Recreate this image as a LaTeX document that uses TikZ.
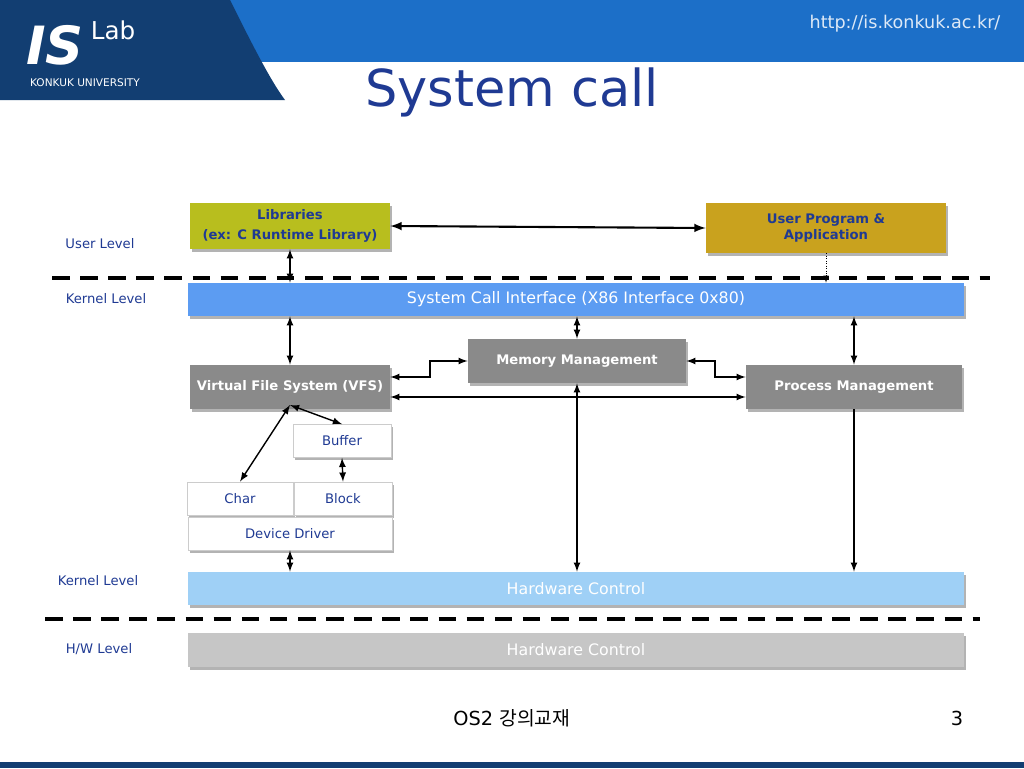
\documentclass[tikz,border=0pt]{standalone}
\usepackage{fontspec}
\setmainfont{DejaVu Sans}
\newfontfamily\cjk{Noto Sans CJK KR}
\usetikzlibrary{shadows}
\definecolor{txtblue}{HTML}{1F3A93}
\definecolor{libcol}{HTML}{B8BE1E}
\definecolor{usrcol}{HTML}{C9A21E}
\definecolor{scicol}{HTML}{5C9CF2}
\definecolor{hwcol}{HTML}{9FD0F6}
\definecolor{mgmt}{HTML}{8A8A8A}
\definecolor{navy}{HTML}{123E72}
\definecolor{band}{HTML}{1C6FC8}
\tikzset{
  box/.style={draw=none, minimum width=#1, inner sep=0pt, drop shadow={shadow xshift=1pt, shadow yshift=-1.5pt, opacity=.6}},
  mg/.style={box=#1, fill=mgmt, text=white, font=\bfseries\fontsize{7.5}{9}\selectfont, minimum height=44*0.02cm},
  wb/.style={box=#1, fill=white, draw=gray!40, text=txtblue, font=\fontsize{7.5}{9}\selectfont, minimum height=33*0.02cm},
  lvl/.style={text=txtblue, font=\fontsize{7.5}{9}\selectfont},
  biarr/.style={<->, >=latex, thick},
}
\begin{document}
\begin{tikzpicture}[x=0.02cm, y=-0.02cm]
\useasboundingbox (0,0) rectangle (1024,768);
% header
\fill[band] (0,0) rectangle (1024,62);
\fill[navy] (0,0) -- (230,0) .. controls (250,40) and (270,80) .. (285,100) -- (0,100) -- cycle;
\node[text=white, font=\bfseries\itshape\fontsize{30}{30}\selectfont] (is) at (55,45) {IS};
\node[text=white, font=\fontsize{14}{14}\selectfont] (lab) at (113,30) {Lab};
\node[text=white, font=\fontsize{6}{7}\selectfont] (ku) at (85,83) {KONKUK UNIVERSITY};
\node[text=white!85!band, font=\fontsize{10}{12}\selectfont] (url) at (905,24) {http://is.konkuk.ac.kr/};
\node[text=txtblue, font=\fontsize{29}{34}\selectfont] (title) at (512,92) {System call};
\fill[navy] (0,762) rectangle (1024,768);

% boxes
\node[box=200*0.02cm, fill=libcol, text=txtblue, font=\bfseries\fontsize{7.5}{9}\selectfont, minimum height=46*0.02cm, align=center] (lib) at (290,226) {Libraries\\[2pt](ex: C Runtime Library)};
\node[box=240*0.02cm, fill=usrcol, text=txtblue, font=\bfseries\fontsize{7.5}{9}\selectfont, minimum height=50*0.02cm, align=center] (usr) at (826,228) {User Program \&\\Application};
\node[box=776*0.02cm, fill=scicol, text=white, font=\fontsize{9}{11}\selectfont, minimum height=33*0.02cm] (sci) at (576,299.5) {System Call Interface (X86 Interface 0x80)};
\node[mg=218*0.02cm] (mem) at (577,361) {Memory Management};
\node[mg=200*0.02cm] (vfs) at (290,387) {Virtual File System (VFS)};
\node[mg=216*0.02cm] (pm) at (854,387) {Process Management};
\node[wb=98*0.02cm] (buf) at (342,441) {Buffer};
\node[wb=106*0.02cm] (chr) at (240,498.5) {Char};
\node[wb=98*0.02cm] (blk) at (343,498.5) {Block};
\node[wb=204*0.02cm] (dd) at (290,533.5) {Device Driver};
\node[box=776*0.02cm, fill=hwcol, text=white, font=\fontsize{9}{11}\selectfont, minimum height=33*0.02cm] (hw1) at (576,588.5) {Hardware Control};
\node[box=776*0.02cm, fill=gray!45, text=white, font=\fontsize{9}{11}\selectfont, minimum height=34*0.02cm] (hw2) at (576,650) {Hardware Control};

% levels
\node[lvl] (ul) at (100,244) {User Level};
\node[lvl] (kl1) at (106,299) {Kernel Level};
\node[lvl] (kl2) at (98,581) {Kernel Level};
\node[lvl] (hwl) at (99,649) {H/W Level};
\coordinate (d1a) at (52,278); \coordinate (d1b) at (990,278);
\coordinate (d2a) at (45,619); \coordinate (d2b) at (980,619);
\draw[line width=2pt, dash pattern=on 10pt off 6pt] (d1a) -- (d1b);
\draw[line width=2pt, dash pattern=on 10pt off 6pt] (d2a) -- (d2b);

% connectors
\draw[biarr, line width=1.2pt] (lib.east) -- (usr.west);
\draw[biarr] (lib.south) -- (lib.south |- sci.north);
\draw[->, >=latex, densely dotted] (usr.south) -- (usr.south |- sci.north);
\draw[biarr] (vfs.north |- sci.south) -- (vfs.north);
\draw[biarr] (mem.north |- sci.south) -- (mem.north);
\draw[biarr] (pm.north |- sci.south) -- (pm.north);
\draw[biarr] ([yshift=10*0.02cm]vfs.east) -| (430,361) -- (mem.west);
\draw[biarr] (mem.east) -| (715,377) -- ([yshift=10*0.02cm]pm.west);
\draw[biarr] ([yshift=-10*0.02cm]vfs.east) -- ([yshift=-10*0.02cm]pm.west);
\draw[biarr] (mem.south) -- (mem.south |- hw1.north);
\draw[->, >=latex, thick] (pm.south) -- (pm.south |- hw1.north);
\draw[biarr] ([yshift=-18*0.02cm]vfs.center) -- (chr.north);
\draw[biarr] ([yshift=-18*0.02cm]vfs.center) -- (buf.north);
\draw[biarr] (buf.south) -- (blk.north);
\draw[biarr] (dd.south) -- (dd.south |- hw1.north);

% footer
\node[font=\fontsize{11}{13}\selectfont] (foot) at (512,718) {OS2 {\cjk 강의교재}};
\node[font=\fontsize{11}{13}\selectfont] (pg) at (957,718) {3};
\end{tikzpicture}
\end{document}
